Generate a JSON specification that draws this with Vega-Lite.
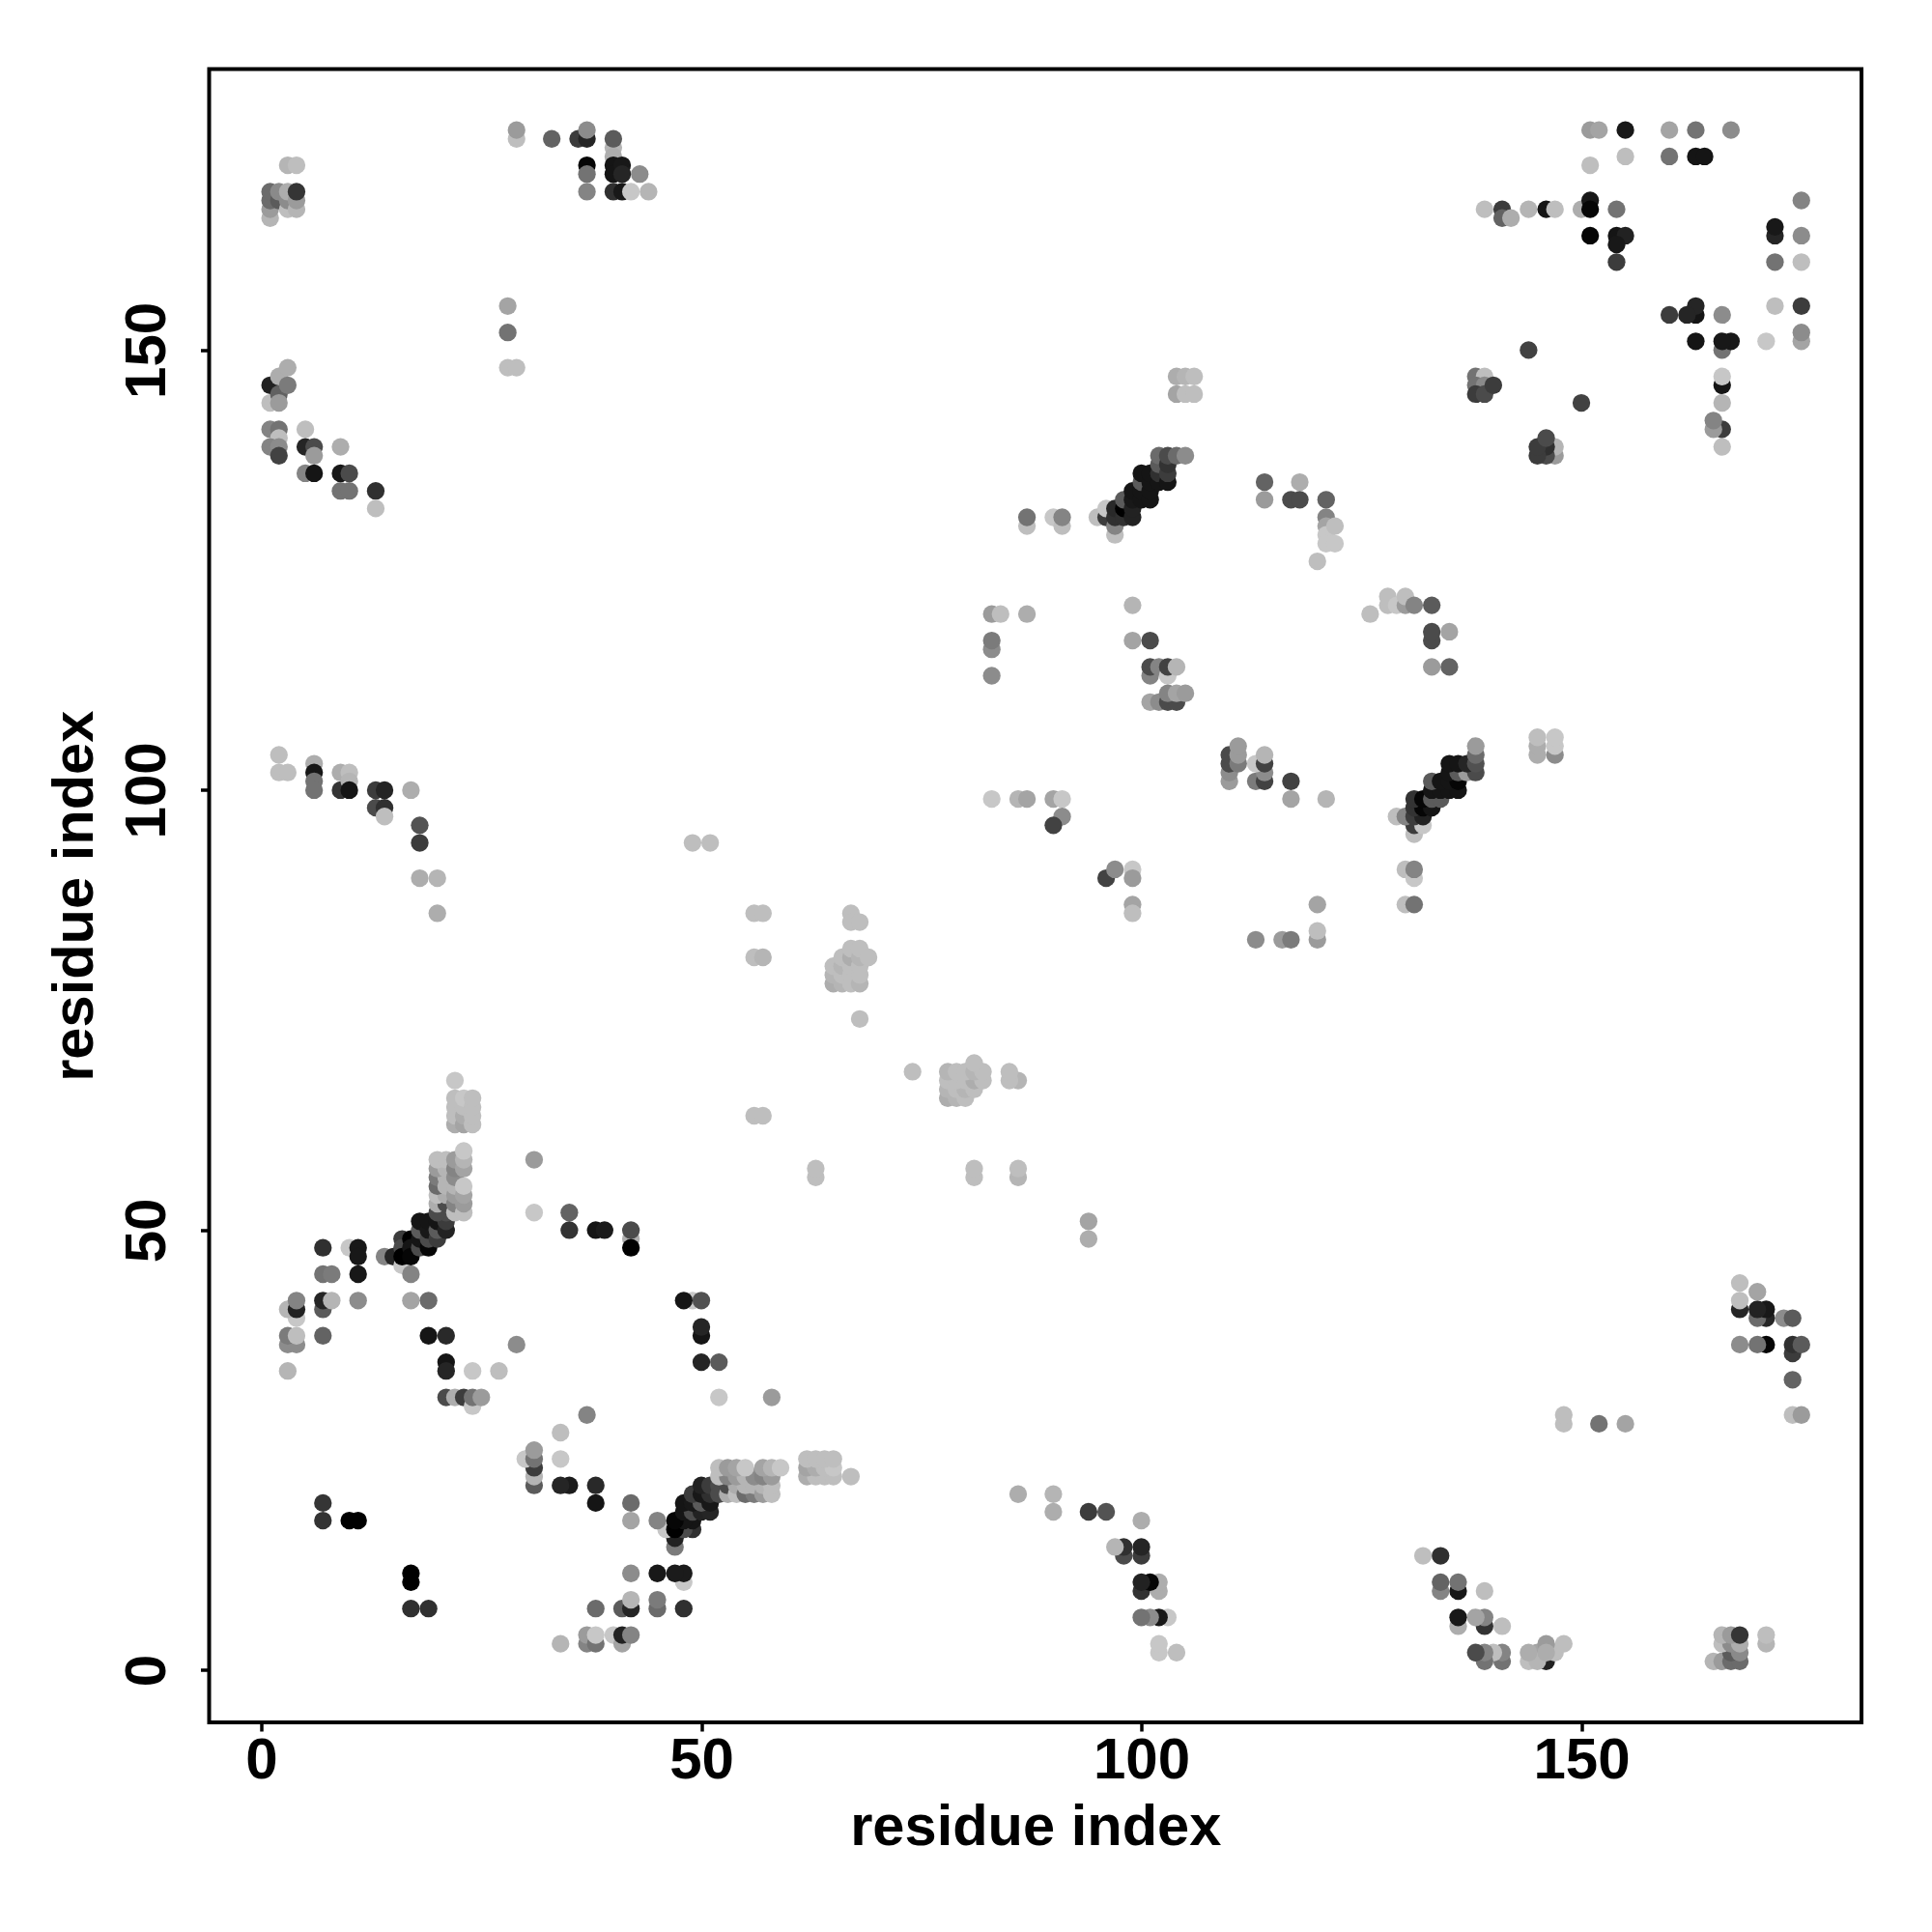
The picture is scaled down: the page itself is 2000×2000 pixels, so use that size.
{"$schema":"https://vega.github.io/schema/vega-lite/v6.json","width":1710.5,"height":1711.5,"autosize":"none","padding":{"left":216.5,"top":71.5,"right":73,"bottom":217},"background":"white","config":{"view":{"stroke":"#000000","strokeWidth":4}},
"data":{"values":[
{"x":1,"y":165,"s":10},{"x":1,"y":166,"s":22},{"x":1,"y":167,"s":45},{"x":1,"y":168,"s":45},{"x":2,"y":167,"s":53},{"x":2,"y":168,"s":30},{"x":3,"y":166,"s":6},{"x":3,"y":167,"s":29},{"x":3,"y":168,"s":14},{"x":4,"y":166,"s":10},{"x":4,"y":167,"s":22},{"x":4,"y":168,"s":73},{"x":3,"y":171,"s":10},{"x":4,"y":171,"s":6},
{"x":1,"y":146,"s":84},{"x":1,"y":144,"s":6},{"x":2,"y":145,"s":50},{"x":2,"y":147,"s":14},{"x":3,"y":148,"s":14},{"x":3,"y":146,"s":37},{"x":2,"y":144,"s":22},{"x":1,"y":141,"s":33},{"x":2,"y":141,"s":41},{"x":2,"y":140,"s":6},{"x":1,"y":139,"s":33},{"x":2,"y":139,"s":29},{"x":2,"y":138,"s":66},{"x":5,"y":141,"s":6},{"x":5,"y":139,"s":82},{"x":6,"y":139,"s":61},{"x":6,"y":138,"s":22},{"x":5,"y":136,"s":33},{"x":6,"y":136,"s":92},{"x":9,"y":139,"s":14},{"x":9,"y":136,"s":90},{"x":10,"y":136,"s":61},{"x":9,"y":134,"s":41},{"x":10,"y":134,"s":41},{"x":13,"y":134,"s":76},{"x":13,"y":132,"s":6},
{"x":29,"y":174,"s":6},{"x":29,"y":175,"s":22},{"x":33,"y":174,"s":49},{"x":36,"y":174,"s":69},{"x":37,"y":174,"s":82},{"x":37,"y":175,"s":29},{"x":37,"y":171,"s":98},{"x":37,"y":170,"s":41},{"x":37,"y":168,"s":33},{"x":40,"y":173,"s":10},{"x":40,"y":174,"s":53},{"x":40,"y":172,"s":14},{"x":40,"y":171,"s":92},{"x":40,"y":170,"s":92},{"x":41,"y":171,"s":90},{"x":41,"y":170,"s":82},{"x":40,"y":168,"s":76},{"x":41,"y":168,"s":90},{"x":43,"y":170,"s":29},{"x":42,"y":168,"s":2},{"x":44,"y":168,"s":10},
{"x":28,"y":155,"s":18},{"x":28,"y":152,"s":41},{"x":28,"y":148,"s":6},{"x":29,"y":148,"s":6},
{"x":2,"y":104,"s":6},{"x":2,"y":102,"s":6},{"x":3,"y":102,"s":6},{"x":6,"y":103,"s":14},{"x":6,"y":102,"s":90},{"x":6,"y":101,"s":41},{"x":6,"y":100,"s":41},{"x":9,"y":100,"s":73},{"x":9,"y":102,"s":14},{"x":10,"y":102,"s":6},{"x":10,"y":101,"s":10},{"x":10,"y":100,"s":92},{"x":13,"y":100,"s":69},{"x":14,"y":100,"s":82},{"x":13,"y":98,"s":61},{"x":14,"y":98,"s":76},{"x":14,"y":97,"s":6},{"x":17,"y":100,"s":14},{"x":18,"y":96,"s":57},{"x":18,"y":94,"s":69},{"x":18,"y":90,"s":14},{"x":20,"y":90,"s":10},{"x":20,"y":86,"s":14},
{"x":3,"y":34,"s":10},{"x":3,"y":37,"s":29},{"x":4,"y":37,"s":29},{"x":3,"y":38,"s":37},{"x":4,"y":38,"s":6},{"x":7,"y":38,"s":49},{"x":4,"y":40,"s":2},{"x":3,"y":41,"s":10},{"x":4,"y":41,"s":84},{"x":4,"y":42,"s":33},{"x":7,"y":41,"s":53},{"x":7,"y":42,"s":82},{"x":8,"y":42,"s":10},{"x":11,"y":42,"s":29},{"x":7,"y":45,"s":41},{"x":8,"y":45,"s":37},{"x":11,"y":45,"s":90},{"x":7,"y":48,"s":76},{"x":10,"y":48,"s":2},{"x":11,"y":48,"s":90},{"x":11,"y":47,"s":90},
{"x":7,"y":19,"s":73},{"x":7,"y":17,"s":74},{"x":10,"y":17,"s":100},{"x":11,"y":17,"s":100},
{"x":14,"y":47,"s":33},{"x":15,"y":47,"s":82},{"x":16,"y":46,"s":2},{"x":16,"y":49,"s":69},{"x":16,"y":48,"s":61},{"x":16,"y":47,"s":100},{"x":17,"y":45,"s":33},{"x":17,"y":49,"s":100},{"x":17,"y":48,"s":92},{"x":17,"y":47,"s":98},{"x":18,"y":48,"s":61},{"x":18,"y":49,"s":92},{"x":18,"y":50,"s":53},{"x":18,"y":51,"s":92},{"x":19,"y":48,"s":98},{"x":19,"y":49,"s":61},{"x":19,"y":50,"s":90},{"x":19,"y":51,"s":92},{"x":20,"y":49,"s":69},{"x":20,"y":50,"s":53},{"x":20,"y":51,"s":92},{"x":21,"y":50,"s":84},{"x":21,"y":51,"s":69},{"x":21,"y":52,"s":61},{"x":20,"y":52,"s":61},{"x":20,"y":53,"s":14},{"x":21,"y":53,"s":61},{"x":20,"y":54,"s":6},{"x":21,"y":54,"s":14},{"x":20,"y":55,"s":45},{"x":20,"y":56,"s":37},{"x":21,"y":55,"s":10},{"x":21,"y":56,"s":10},{"x":20,"y":57,"s":22},{"x":21,"y":57,"s":10},{"x":20,"y":58,"s":6},{"x":21,"y":58,"s":6},{"x":22,"y":52,"s":6},{"x":22,"y":53,"s":33},{"x":22,"y":54,"s":22},{"x":22,"y":55,"s":10},{"x":22,"y":56,"s":29},{"x":22,"y":57,"s":33},{"x":22,"y":58,"s":22},{"x":23,"y":52,"s":6},{"x":23,"y":53,"s":22},{"x":23,"y":54,"s":18},{"x":23,"y":55,"s":2},{"x":23,"y":57,"s":18},{"x":23,"y":58,"s":10},{"x":23,"y":59,"s":2},{"x":22,"y":62,"s":14},{"x":22,"y":63,"s":6},{"x":22,"y":64,"s":6},{"x":22,"y":65,"s":6},{"x":22,"y":67,"s":2},{"x":23,"y":62,"s":18},{"x":23,"y":63,"s":14},{"x":23,"y":64,"s":6},{"x":23,"y":65,"s":2},{"x":24,"y":62,"s":6},{"x":24,"y":63,"s":6},{"x":24,"y":64,"s":6},{"x":24,"y":65,"s":6},
{"x":17,"y":42,"s":18},{"x":19,"y":42,"s":45},{"x":19,"y":38,"s":92},{"x":21,"y":38,"s":80},{"x":21,"y":35,"s":92},{"x":21,"y":34,"s":82},{"x":24,"y":34,"s":2},{"x":27,"y":34,"s":6},{"x":29,"y":37,"s":29},{"x":21,"y":31,"s":61},{"x":22,"y":31,"s":14},{"x":23,"y":31,"s":69},{"x":24,"y":30,"s":2},{"x":24,"y":31,"s":41},{"x":25,"y":31,"s":22},
{"x":31,"y":58,"s":22},{"x":31,"y":52,"s":2},{"x":35,"y":52,"s":49},{"x":35,"y":50,"s":74},{"x":38,"y":50,"s":92},{"x":39,"y":50,"s":88},{"x":42,"y":49,"s":14},{"x":42,"y":50,"s":61},{"x":42,"y":48,"s":100},
{"x":49,"y":94,"s":6},{"x":51,"y":94,"s":6},{"x":56,"y":86,"s":6},{"x":57,"y":86,"s":6},{"x":56,"y":81,"s":6},{"x":57,"y":81,"s":10},{"x":56,"y":63,"s":6},{"x":57,"y":63,"s":6},
{"x":67,"y":86,"s":6},{"x":67,"y":85,"s":6},{"x":68,"y":85,"s":6},{"x":68,"y":74,"s":6},{"x":65,"y":78,"s":14},{"x":65,"y":79,"s":10},{"x":65,"y":80,"s":6},{"x":66,"y":78,"s":10},{"x":66,"y":79,"s":6},{"x":66,"y":80,"s":10},{"x":66,"y":81,"s":6},{"x":67,"y":78,"s":6},{"x":67,"y":79,"s":6},{"x":67,"y":80,"s":6},{"x":67,"y":81,"s":14},{"x":67,"y":82,"s":6},{"x":68,"y":78,"s":10},{"x":68,"y":79,"s":6},{"x":68,"y":80,"s":6},{"x":68,"y":81,"s":10},{"x":68,"y":82,"s":6},{"x":69,"y":81,"s":6},
{"x":83,"y":120,"s":22},{"x":84,"y":120,"s":6},{"x":87,"y":120,"s":14},{"x":83,"y":116,"s":29},{"x":83,"y":117,"s":37},{"x":83,"y":113,"s":29},{"x":83,"y":99,"s":2},{"x":86,"y":99,"s":10},{"x":87,"y":99,"s":18},{"x":90,"y":99,"s":18},{"x":91,"y":99,"s":2},{"x":91,"y":97,"s":29},{"x":90,"y":96,"s":66},{"x":96,"y":90,"s":66},{"x":97,"y":91,"s":29},{"x":99,"y":91,"s":2},{"x":99,"y":90,"s":22},{"x":99,"y":87,"s":18},{"x":99,"y":86,"s":6},
{"x":87,"y":130,"s":6},{"x":87,"y":131,"s":41},{"x":90,"y":131,"s":2},{"x":91,"y":130,"s":6},{"x":91,"y":131,"s":33},
{"x":95,"y":131,"s":6},{"x":96,"y":131,"s":69},{"x":96,"y":132,"s":2},{"x":97,"y":129,"s":6},{"x":97,"y":130,"s":33},{"x":97,"y":131,"s":76},{"x":97,"y":132,"s":80},{"x":98,"y":131,"s":76},{"x":98,"y":132,"s":100},{"x":98,"y":133,"s":53},{"x":99,"y":131,"s":84},{"x":99,"y":132,"s":84},{"x":99,"y":133,"s":90},{"x":99,"y":134,"s":92},{"x":100,"y":133,"s":92},{"x":100,"y":134,"s":92},{"x":100,"y":135,"s":53},{"x":100,"y":136,"s":92},{"x":101,"y":133,"s":92},{"x":101,"y":134,"s":92},{"x":101,"y":135,"s":92},{"x":101,"y":136,"s":92},{"x":102,"y":135,"s":92},{"x":102,"y":136,"s":76},{"x":102,"y":137,"s":53},{"x":102,"y":138,"s":45},{"x":103,"y":135,"s":92},{"x":103,"y":136,"s":69},{"x":103,"y":137,"s":74},{"x":103,"y":138,"s":61},{"x":104,"y":138,"s":45},{"x":105,"y":138,"s":29},
{"x":99,"y":121,"s":10},{"x":99,"y":117,"s":18},{"x":101,"y":117,"s":61},{"x":101,"y":113,"s":33},{"x":101,"y":114,"s":61},{"x":102,"y":114,"s":33},{"x":103,"y":113,"s":2},{"x":103,"y":114,"s":66},{"x":104,"y":114,"s":10},{"x":101,"y":110,"s":18},{"x":102,"y":110,"s":29},{"x":103,"y":110,"s":61},{"x":104,"y":110,"s":61},{"x":103,"y":111,"s":33},{"x":104,"y":111,"s":18},{"x":105,"y":111,"s":22},
{"x":104,"y":145,"s":18},{"x":104,"y":147,"s":14},{"x":105,"y":145,"s":6},{"x":105,"y":147,"s":10},{"x":106,"y":145,"s":6},{"x":106,"y":147,"s":6},
{"x":114,"y":135,"s":49},{"x":114,"y":133,"s":22},{"x":118,"y":135,"s":14},{"x":117,"y":133,"s":61},{"x":118,"y":133,"s":61},{"x":121,"y":133,"s":49},{"x":121,"y":131,"s":33},{"x":121,"y":130,"s":18},{"x":121,"y":129,"s":2},{"x":122,"y":130,"s":6},{"x":121,"y":128,"s":2},{"x":122,"y":128,"s":2},{"x":120,"y":126,"s":6},
{"x":126,"y":120,"s":6},{"x":128,"y":121,"s":6},{"x":128,"y":122,"s":6},{"x":129,"y":121,"s":2},{"x":130,"y":121,"s":22},{"x":130,"y":122,"s":6},{"x":131,"y":121,"s":33},{"x":133,"y":121,"s":53},{"x":133,"y":117,"s":61},{"x":133,"y":118,"s":61},{"x":135,"y":118,"s":18},{"x":133,"y":114,"s":22},{"x":135,"y":114,"s":49},
{"x":113,"y":83,"s":29},{"x":116,"y":83,"s":22},{"x":117,"y":83,"s":37},{"x":120,"y":83,"s":22},{"x":120,"y":84,"s":6},{"x":120,"y":87,"s":18},{"x":130,"y":87,"s":6},{"x":131,"y":87,"s":41},{"x":130,"y":91,"s":6},{"x":131,"y":90,"s":2},{"x":131,"y":91,"s":33},
{"x":145,"y":104,"s":14},{"x":145,"y":105,"s":14},{"x":145,"y":106,"s":6},{"x":147,"y":104,"s":29},{"x":147,"y":105,"s":2},{"x":147,"y":106,"s":2},
{"x":138,"y":147,"s":41},{"x":139,"y":147,"s":6},{"x":138,"y":146,"s":41},{"x":139,"y":146,"s":30},{"x":138,"y":145,"s":69},{"x":139,"y":145,"s":61},{"x":140,"y":146,"s":69},{"x":144,"y":150,"s":66},
{"x":139,"y":166,"s":6},{"x":141,"y":166,"s":69},{"x":141,"y":165,"s":49},{"x":142,"y":165,"s":14},{"x":144,"y":166,"s":10},{"x":146,"y":166,"s":92},{"x":147,"y":166,"s":6},{"x":150,"y":166,"s":14},{"x":151,"y":167,"s":90},{"x":151,"y":166,"s":98},{"x":151,"y":163,"s":98},{"x":154,"y":166,"s":41},{"x":154,"y":163,"s":92},{"x":155,"y":163,"s":84},{"x":154,"y":162,"s":90},{"x":154,"y":160,"s":69},
{"x":151,"y":175,"s":22},{"x":152,"y":175,"s":18},{"x":155,"y":175,"s":90},{"x":155,"y":172,"s":6},{"x":151,"y":171,"s":6},{"x":160,"y":175,"s":18},{"x":163,"y":175,"s":41},{"x":167,"y":175,"s":29},{"x":160,"y":172,"s":41},{"x":163,"y":172,"s":92},{"x":164,"y":172,"s":92},
{"x":165,"y":1,"s":10},{"x":166,"y":1,"s":22},{"x":167,"y":1,"s":45},{"x":168,"y":1,"s":45},{"x":167,"y":2,"s":53},{"x":168,"y":2,"s":30},{"x":166,"y":3,"s":6},{"x":167,"y":3,"s":29},{"x":168,"y":3,"s":14},{"x":166,"y":4,"s":10},{"x":167,"y":4,"s":22},{"x":168,"y":4,"s":73},{"x":171,"y":3,"s":10},{"x":171,"y":4,"s":6},
{"x":146,"y":1,"s":84},{"x":144,"y":1,"s":6},{"x":145,"y":2,"s":18},{"x":145,"y":1,"s":10},{"x":147,"y":2,"s":6},{"x":148,"y":3,"s":6},{"x":146,"y":3,"s":22},{"x":146,"y":2,"s":14},{"x":144,"y":2,"s":14},{"x":141,"y":1,"s":41},{"x":141,"y":2,"s":33},{"x":140,"y":2,"s":6},{"x":139,"y":1,"s":41},{"x":139,"y":2,"s":33},{"x":138,"y":2,"s":61},{"x":141,"y":5,"s":6},{"x":139,"y":5,"s":74},{"x":139,"y":6,"s":33},{"x":138,"y":6,"s":18},{"x":136,"y":5,"s":14},{"x":136,"y":6,"s":90},{"x":139,"y":9,"s":6},{"x":136,"y":9,"s":90},{"x":136,"y":10,"s":41},{"x":134,"y":9,"s":33},{"x":134,"y":10,"s":49},{"x":134,"y":13,"s":76},{"x":132,"y":13,"s":6},
{"x":174,"y":29,"s":6},{"x":175,"y":29,"s":22},{"x":174,"y":33,"s":49},{"x":174,"y":36,"s":69},{"x":174,"y":37,"s":76},{"x":175,"y":37,"s":53},{"x":171,"y":37,"s":98},{"x":170,"y":37,"s":41},{"x":168,"y":37,"s":29},{"x":173,"y":40,"s":29},{"x":174,"y":40,"s":53},{"x":171,"y":40,"s":82},{"x":170,"y":40,"s":45},{"x":171,"y":41,"s":90},{"x":170,"y":41,"s":84},{"x":168,"y":41,"s":82},{"x":170,"y":43,"s":18},{"x":168,"y":42,"s":6},{"x":168,"y":44,"s":6},
{"x":155,"y":28,"s":18},{"x":152,"y":28,"s":41},{"x":148,"y":28,"s":6},{"x":148,"y":29,"s":6},
{"x":104,"y":2,"s":6},{"x":102,"y":2,"s":2},{"x":102,"y":3,"s":2},{"x":103,"y":6,"s":2},{"x":102,"y":6,"s":90},{"x":101,"y":6,"s":29},{"x":100,"y":6,"s":41},{"x":100,"y":9,"s":74},{"x":102,"y":9,"s":14},{"x":102,"y":10,"s":14},{"x":101,"y":10,"s":98},{"x":100,"y":10,"s":84},{"x":100,"y":13,"s":69},{"x":100,"y":14,"s":82},{"x":98,"y":13,"s":61},{"x":98,"y":14,"s":76},{"x":97,"y":14,"s":10},{"x":100,"y":17,"s":14},{"x":96,"y":18,"s":57},{"x":94,"y":18,"s":69},{"x":90,"y":18,"s":14},{"x":90,"y":20,"s":10},{"x":86,"y":20,"s":14},
{"x":34,"y":3,"s":10},{"x":37,"y":3,"s":33},{"x":37,"y":4,"s":22},{"x":38,"y":3,"s":41},{"x":38,"y":4,"s":2},{"x":38,"y":7,"s":45},{"x":40,"y":4,"s":2},{"x":41,"y":3,"s":18},{"x":41,"y":4,"s":84},{"x":42,"y":4,"s":33},{"x":41,"y":7,"s":53},{"x":42,"y":7,"s":82},{"x":42,"y":8,"s":10},{"x":42,"y":11,"s":29},{"x":45,"y":7,"s":45},{"x":45,"y":8,"s":37},{"x":45,"y":11,"s":90},{"x":48,"y":7,"s":76},{"x":48,"y":10,"s":2},{"x":48,"y":11,"s":88},{"x":47,"y":11,"s":88},
{"x":19,"y":7,"s":76},{"x":17,"y":7,"s":76},{"x":17,"y":10,"s":100},{"x":17,"y":11,"s":100},
{"x":47,"y":14,"s":37},{"x":47,"y":15,"s":84},{"x":46,"y":16,"s":2},{"x":49,"y":16,"s":76},{"x":48,"y":16,"s":61},{"x":47,"y":16,"s":100},{"x":45,"y":17,"s":33},{"x":49,"y":17,"s":92},{"x":48,"y":17,"s":92},{"x":47,"y":17,"s":98},{"x":48,"y":18,"s":92},{"x":49,"y":18,"s":61},{"x":50,"y":18,"s":84},{"x":51,"y":18,"s":82},{"x":48,"y":19,"s":92},{"x":49,"y":19,"s":90},{"x":50,"y":19,"s":53},{"x":51,"y":19,"s":90},{"x":49,"y":20,"s":69},{"x":50,"y":20,"s":90},{"x":51,"y":20,"s":76},{"x":50,"y":21,"s":84},{"x":51,"y":21,"s":69},{"x":52,"y":21,"s":61},{"x":52,"y":20,"s":61},{"x":53,"y":20,"s":14},{"x":53,"y":21,"s":61},{"x":54,"y":20,"s":6},{"x":54,"y":21,"s":14},{"x":55,"y":20,"s":45},{"x":56,"y":20,"s":37},{"x":55,"y":21,"s":10},{"x":56,"y":21,"s":10},{"x":57,"y":20,"s":22},{"x":57,"y":21,"s":10},{"x":58,"y":20,"s":6},{"x":58,"y":21,"s":6},{"x":52,"y":22,"s":6},{"x":53,"y":22,"s":33},{"x":54,"y":22,"s":22},{"x":55,"y":22,"s":10},{"x":56,"y":22,"s":29},{"x":57,"y":22,"s":33},{"x":58,"y":22,"s":22},{"x":52,"y":23,"s":6},{"x":53,"y":23,"s":22},{"x":54,"y":23,"s":18},{"x":55,"y":23,"s":2},{"x":57,"y":23,"s":18},{"x":58,"y":23,"s":10},{"x":59,"y":23,"s":2},{"x":62,"y":22,"s":14},{"x":63,"y":22,"s":6},{"x":64,"y":22,"s":6},{"x":65,"y":22,"s":6},{"x":67,"y":22,"s":6},{"x":62,"y":23,"s":18},{"x":63,"y":23,"s":14},{"x":64,"y":23,"s":6},{"x":65,"y":23,"s":2},{"x":62,"y":24,"s":6},{"x":63,"y":24,"s":6},{"x":64,"y":24,"s":6},{"x":65,"y":24,"s":6},
{"x":42,"y":17,"s":18},{"x":42,"y":19,"s":45},{"x":38,"y":19,"s":92},{"x":38,"y":21,"s":80},{"x":35,"y":21,"s":88},{"x":34,"y":21,"s":82},{"x":34,"y":24,"s":2},{"x":34,"y":27,"s":6},{"x":37,"y":29,"s":33},{"x":31,"y":21,"s":53},{"x":31,"y":22,"s":10},{"x":31,"y":23,"s":69},{"x":30,"y":24,"s":2},{"x":31,"y":24,"s":41},{"x":31,"y":25,"s":22},
{"x":58,"y":31,"s":22},{"x":52,"y":31,"s":2},{"x":52,"y":35,"s":53},{"x":50,"y":35,"s":82},{"x":50,"y":38,"s":92},{"x":50,"y":39,"s":82},{"x":49,"y":42,"s":2},{"x":50,"y":42,"s":58},{"x":48,"y":42,"s":92},
{"x":94,"y":49,"s":14},{"x":94,"y":51,"s":18},{"x":86,"y":56,"s":10},{"x":86,"y":57,"s":6},{"x":81,"y":56,"s":6},{"x":81,"y":57,"s":6},{"x":63,"y":56,"s":6},{"x":63,"y":57,"s":6},
{"x":86,"y":67,"s":10},{"x":85,"y":67,"s":6},{"x":85,"y":68,"s":6},{"x":74,"y":68,"s":6},{"x":78,"y":65,"s":14},{"x":79,"y":65,"s":10},{"x":80,"y":65,"s":6},{"x":78,"y":66,"s":10},{"x":79,"y":66,"s":6},{"x":80,"y":66,"s":10},{"x":81,"y":66,"s":6},{"x":78,"y":67,"s":6},{"x":79,"y":67,"s":6},{"x":80,"y":67,"s":6},{"x":81,"y":67,"s":14},{"x":82,"y":67,"s":6},{"x":78,"y":68,"s":10},{"x":79,"y":68,"s":6},{"x":80,"y":68,"s":6},{"x":81,"y":68,"s":10},{"x":82,"y":68,"s":6},{"x":81,"y":69,"s":6},
{"x":131,"y":95,"s":6},{"x":131,"y":96,"s":69},{"x":132,"y":96,"s":2},{"x":129,"y":97,"s":6},{"x":130,"y":97,"s":33},{"x":131,"y":97,"s":69},{"x":132,"y":97,"s":84},{"x":131,"y":98,"s":74},{"x":132,"y":98,"s":98},{"x":133,"y":98,"s":92},{"x":131,"y":99,"s":74},{"x":132,"y":99,"s":98},{"x":133,"y":99,"s":53},{"x":134,"y":99,"s":53},{"x":133,"y":100,"s":92},{"x":134,"y":100,"s":92},{"x":135,"y":100,"s":92},{"x":136,"y":100,"s":92},{"x":133,"y":101,"s":53},{"x":134,"y":101,"s":92},{"x":135,"y":101,"s":92},{"x":136,"y":101,"s":98},{"x":135,"y":102,"s":92},{"x":136,"y":102,"s":53},{"x":137,"y":102,"s":22},{"x":138,"y":102,"s":61},{"x":135,"y":103,"s":92},{"x":136,"y":103,"s":92},{"x":137,"y":103,"s":82},{"x":138,"y":103,"s":58},{"x":138,"y":104,"s":45},{"x":138,"y":105,"s":22},
{"x":121,"y":99,"s":10},{"x":117,"y":99,"s":18},{"x":117,"y":101,"s":66},{"x":113,"y":101,"s":37},{"x":114,"y":101,"s":66},{"x":114,"y":102,"s":29},{"x":113,"y":103,"s":2},{"x":114,"y":103,"s":66},{"x":114,"y":104,"s":10},{"x":110,"y":101,"s":22},{"x":110,"y":102,"s":29},{"x":110,"y":103,"s":61},{"x":110,"y":104,"s":61},{"x":111,"y":103,"s":37},{"x":111,"y":104,"s":22},{"x":111,"y":105,"s":22},
{"x":147,"y":138,"s":22},{"x":147,"y":139,"s":10},{"x":146,"y":138,"s":61},{"x":146,"y":139,"s":76},{"x":145,"y":138,"s":69},{"x":145,"y":139,"s":69},{"x":146,"y":140,"s":61},{"x":150,"y":144,"s":66},
{"x":166,"y":139,"s":6},{"x":166,"y":141,"s":69},{"x":165,"y":141,"s":22},{"x":165,"y":142,"s":33},{"x":166,"y":144,"s":10},{"x":166,"y":146,"s":92},{"x":166,"y":147,"s":2},{"x":166,"y":150,"s":41},{"x":167,"y":151,"s":90},{"x":166,"y":151,"s":90},{"x":163,"y":151,"s":92},{"x":166,"y":154,"s":29},{"x":163,"y":154,"s":92},{"x":163,"y":155,"s":82},{"x":162,"y":154,"s":82},{"x":160,"y":154,"s":69},
{"x":175,"y":151,"s":18},{"x":175,"y":152,"s":29},{"x":175,"y":155,"s":69},{"x":172,"y":155,"s":6},{"x":171,"y":151,"s":2},{"x":175,"y":160,"s":6},{"x":175,"y":163,"s":29},{"x":175,"y":167,"s":33},{"x":172,"y":160,"s":41},{"x":172,"y":163,"s":82},{"x":172,"y":164,"s":90}
]},
"mark":{"type":"circle","size":335,"opacity":1},
"encoding":{
"x":{"field":"x","type":"quantitative","scale":{"domain":[-5.93,181.83],"nice":false,"zero":false},"axis":{"values":[0,50,100,150],"grid":false,"domain":false,"tickSize":9,"tickWidth":3.5,"tickColor":"#000","labelFont":"Liberation Sans","labelFontWeight":"bold","labelFontSize":60,"labelColor":"#000","labelPadding":1,"labelFlush":false,"labelOverlap":false,"title":"residue index","titleFont":"Liberation Sans","titleFontWeight":"bold","titleFontSize":59.6,"titleColor":"#000","titlePadding":10}},
"y":{"field":"y","type":"quantitative","scale":{"domain":[-5.93,181.93],"nice":false,"zero":false},"axis":{"values":[0,50,100,150],"grid":false,"domain":false,"tickSize":9,"tickWidth":3.5,"tickColor":"#000","labelFont":"Liberation Sans","labelFontWeight":"bold","labelFontSize":60,"labelColor":"#000","labelAngle":-90,"labelAlign":"center","labelBaseline":"bottom","labelPadding":24,"labelOverlap":false,"title":"residue index","titleFont":"Liberation Sans","titleFontWeight":"bold","titleFontSize":59.6,"titleColor":"#000","titlePadding":14}},
"color":{"field":"s","type":"quantitative","legend":null,"scale":{"domain":[0,100],"range":["#cccccc","#000000"]}}
}}
